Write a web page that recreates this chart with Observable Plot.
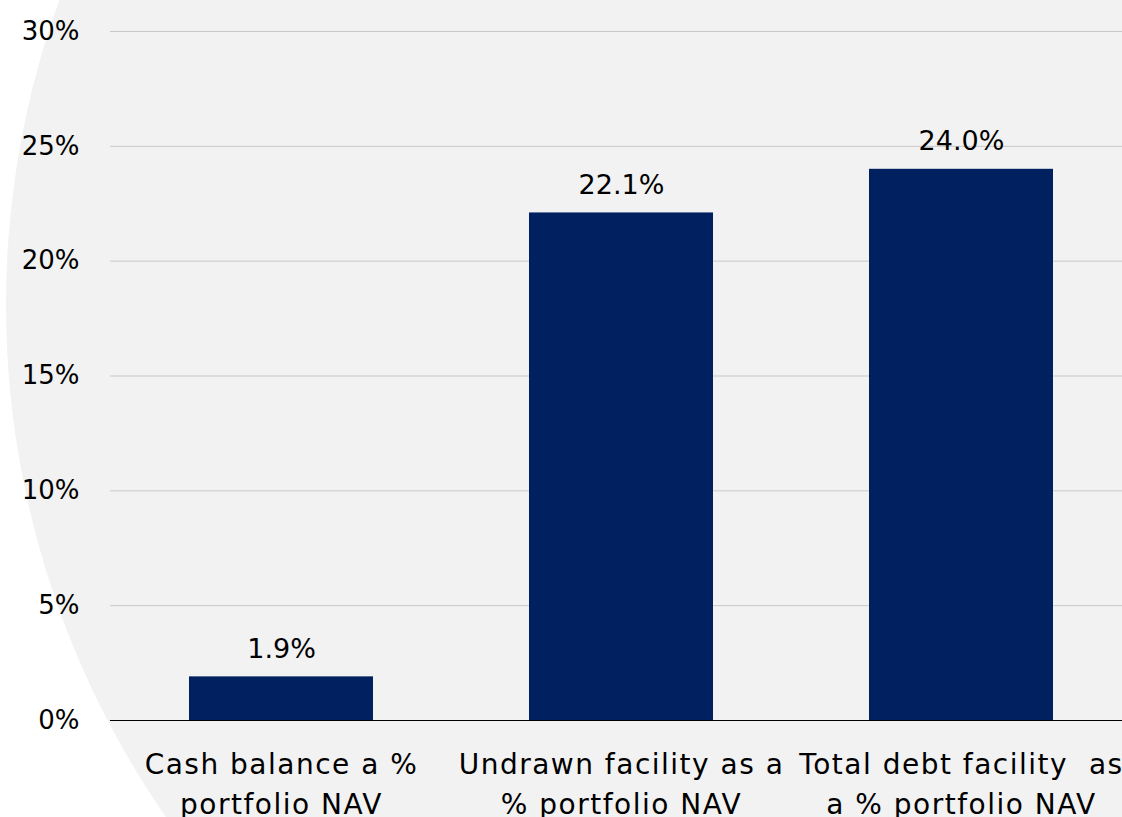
<!DOCTYPE html>
<html>
<head>
<meta charset="utf-8">
<script src="https://cdn.jsdelivr.net/npm/d3@7"></script>
<script src="https://cdn.jsdelivr.net/npm/@observablehq/plot@0.6"></script>
<style>
  html, body { margin: 0; padding: 0; background: #ffffff; overflow: hidden; width: 1122px; height: 817px; }
  #bg { position: absolute; left: 6px; top: -595px; width: 1800px; height: 1800px; border-radius: 50%; background: #f2f2f2; z-index: 0; }
  #chart { position: absolute; left: 0; top: 0; z-index: 1; }
  #chart svg { background: transparent; overflow: visible; }
</style>
</head>
<body>
<div id="bg"></div>
<div id="chart"></div>
<script>
const categories = ["Cash balance a % portfolio NAV", "Undrawn facility as a % portfolio NAV", "Total debt facility as a % portfolio NAV"];
const categoryLabels = ["Cash balance a %\nportfolio NAV", "Undrawn facility as a\n% portfolio NAV", "Total debt facility  as\na % portfolio NAV"];
const values = [1.9, 22.1, 24.0];
const valueLabels = ["1.9%", "22.1%", "24.0%"];
const yTicks = [0, 5, 10, 15, 20, 25, 30];

const data = categories.map((c, i) => ({category: c, label: categoryLabels[i], value: values[i], valueLabel: valueLabels[i]}));

const FONT = "'DejaVu Sans', sans-serif";

const chart = Plot.plot({
  width: 1122,
  height: 817,
  marginTop: 31,
  marginBottom: 97,
  marginLeft: 110,
  marginRight: -10,
  style: {fontFamily: FONT, fontSize: "26px", color: "#000", background: "transparent"},
  x: {domain: categories, paddingInner: 0.46, paddingOuter: 0.23, axis: null},
  y: {domain: [0, 30], ticks: yTicks},
  marks: [
    Plot.gridY(yTicks, {stroke: "#c8c8c8", strokeOpacity: 1, strokeWidth: 1}),
    Plot.axisY(yTicks, {tickSize: 0, tickPadding: 31, tickFormat: d => d + "%", fontSize: 26, fill: "#000", label: null}),
    Plot.barY(data, {x: "category", y: "value", fill: "#002060"}),
    Plot.ruleY([0], {stroke: "#000", strokeWidth: 1.2}),
    Plot.text(data, {x: "category", y: "value", text: "valueLabel", lineAnchor: "bottom", dy: -19, fontSize: 27, fill: "#000"}),
    Plot.text(data, {x: "category", frameAnchor: "bottom", text: "label", lineAnchor: "top", dy: 25, lineHeight: 1.43, fontSize: 28, fill: "#000"})
  ]
});
const textGroups = chart.querySelectorAll('g[aria-label="text"]');
const catGroup = textGroups[textGroups.length - 1];
catGroup.setAttribute("letter-spacing", "1.5px");
catGroup.querySelectorAll("text").forEach(t => t.setAttribute("letter-spacing", "1.5px"));
document.getElementById("chart").appendChild(chart);
</script>
</body>
</html>
